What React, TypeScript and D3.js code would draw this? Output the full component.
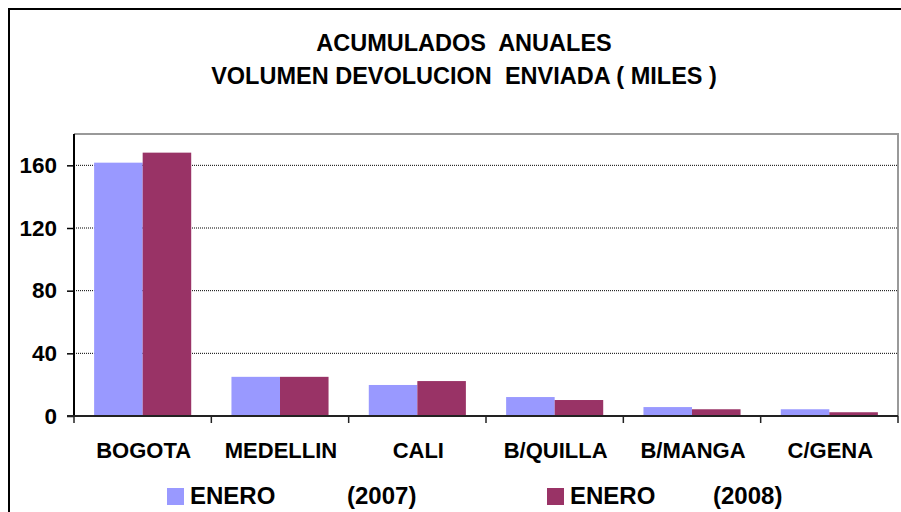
import React, { useEffect, useRef } from 'react';
import * as d3 from 'd3';

const categories = ['BOGOTA', 'MEDELLIN', 'CALI', 'B/QUILLA', 'B/MANGA', 'C/GENA'];
const series2007 = [161.7, 25.0, 19.8, 12.1, 5.7, 4.3];
const series2008 = [168.1, 25.0, 22.3, 10.2, 4.3, 2.4];
const yTicks = [0, 40, 80, 120, 160];
const seriesNames = ['ENERO', 'ENERO'];
const seriesYears = ['(2007)', '(2008)'];
const colors = ['#9999FF', '#993366'];
const titleLines = ['ACUMULADOS  ANUALES', 'VOLUMEN DEVOLUCION  ENVIADA ( MILES )'];

const FONT = '"Liberation Sans", Arial, sans-serif';

export default function App() {
  const svgRef = useRef<SVGSVGElement>(null);

  useEffect(() => {
    if (!svgRef.current) return;
    const W = 901;
    const H = 512;
    const plot = { left: 74, top: 134, right: 898, bottom: 416 };

    const svg = d3.select(svgRef.current);
    svg.selectAll('*').remove();

    svg.append('rect').attr('width', W).attr('height', H).attr('fill', '#fff');

    // outer frame
    svg
      .append('path')
      .attr('d', `M9,${H + 5} L9,9 L${W + 5},9`)
      .attr('fill', 'none')
      .attr('stroke', '#000')
      .attr('stroke-width', 2);

    // title
    svg
      .selectAll('.title')
      .data(titleLines)
      .enter()
      .append('text')
      .attr('x', 464)
      .attr('y', (d, i) => 51 + i * 33)
      .attr('text-anchor', 'middle')
      .style('font-family', FONT)
      .style('font-weight', 'bold')
      .style('font-size', '23.5px')
      .style('white-space', 'pre')
      .text(d => d);

    const x0 = d3
      .scaleBand()
      .domain(categories)
      .range([plot.left, plot.right])
      .paddingInner(0.293)
      .paddingOuter(0.1465);

    const x1 = d3.scaleBand().domain(['0', '1']).range([0, x0.bandwidth()]);

    const y = d3.scaleLinear().domain([0, 180]).range([plot.bottom, plot.top]);

    // plot border (gray top + right)
    svg
      .append('path')
      .attr('d', `M${plot.left},${plot.top} L${plot.right},${plot.top} L${plot.right},${plot.bottom}`)
      .attr('fill', 'none')
      .attr('stroke', '#999')
      .attr('stroke-width', 2);

    // gridlines
    svg
      .selectAll('.grid')
      .data(yTicks.filter(t => t > 0))
      .enter()
      .append('line')
      .attr('x1', plot.left)
      .attr('x2', plot.right)
      .attr('y1', d => y(d))
      .attr('y2', d => y(d))
      .attr('stroke', '#000')
      .attr('stroke-width', 1)
      .attr('stroke-dasharray', '1,1');

    // bars
    const groups = svg
      .selectAll('.grp')
      .data(categories)
      .enter()
      .append('g')
      .attr('transform', d => `translate(${x0(d)},0)`);

    groups
      .selectAll('rect')
      .data((d, i) => [series2007[i], series2008[i]])
      .enter()
      .append('rect')
      .attr('x', (d, j) => x1(String(j))!)
      .attr('width', x1.bandwidth())
      .attr('y', d => y(d))
      .attr('height', d => plot.bottom - y(d))
      .attr('fill', (d, j) => colors[j]);

    // y axis
    const yAxis = svg
      .append('g')
      .attr('transform', `translate(${plot.left},0)`)
      .call(d3.axisLeft(y).tickValues(yTicks).tickSize(7).tickPadding(10).tickFormat(d3.format('d')));
    yAxis.select('.domain').attr('stroke', '#000').attr('stroke-width', 2).attr('d', `M0,${plot.bottom}V${plot.top}`);
    yAxis.selectAll('.tick line').attr('stroke', '#000').attr('stroke-width', 1.5);
    yAxis
      .selectAll('text')
      .style('font-family', FONT)
      .style('font-weight', 'bold')
      .style('font-size', '22.5px')
      .attr('fill', '#000');

    // x axis
    const boundaries = d3.range(categories.length + 1).map(i => plot.left + i * x0.step());
    svg
      .append('line')
      .attr('x1', plot.left - 7)
      .attr('x2', plot.right)
      .attr('y1', plot.bottom)
      .attr('y2', plot.bottom)
      .attr('stroke', '#222')
      .attr('stroke-width', 2);
    svg
      .selectAll('.xtick')
      .data(boundaries)
      .enter()
      .append('line')
      .attr('x1', d => d)
      .attr('x2', d => d)
      .attr('y1', plot.bottom)
      .attr('y2', plot.bottom + 7)
      .attr('stroke', '#222')
      .attr('stroke-width', 1.5);

    svg
      .selectAll('.xlabel')
      .data(categories)
      .enter()
      .append('text')
      .attr('x', d => x0(d)! + x0.bandwidth() / 2 + 1)
      .attr('y', 458)
      .attr('text-anchor', 'middle')
      .style('font-family', FONT)
      .style('font-weight', 'bold')
      .style('font-size', '22px')
      .text(d => d);

    // legend
    const legendX = [167, 547];
    const yearOffset = [180, 166];
    const legend = svg
      .selectAll('.legend')
      .data(seriesNames)
      .enter()
      .append('g')
      .attr('transform', (d, i) => `translate(${legendX[i]},488)`);
    legend
      .append('rect')
      .attr('width', 17)
      .attr('height', 17)
      .attr('fill', (d, i) => colors[i]);
    legend
      .append('text')
      .attr('x', 23)
      .attr('y', 16)
      .style('font-family', FONT)
      .style('font-weight', 'bold')
      .style('font-size', '24px')
      .text(d => d);
    legend
      .append('text')
      .attr('x', (d, i) => yearOffset[i])
      .attr('y', 16)
      .style('font-family', FONT)
      .style('font-weight', 'bold')
      .style('font-size', '24px')
      .text((d, i) => seriesYears[i]);
  }, []);

  return (
    <svg
      ref={svgRef}
      width={901}
      height={512}
      style={{ position: 'absolute', left: 0, top: 0, display: 'block' }}
    />
  );
}
